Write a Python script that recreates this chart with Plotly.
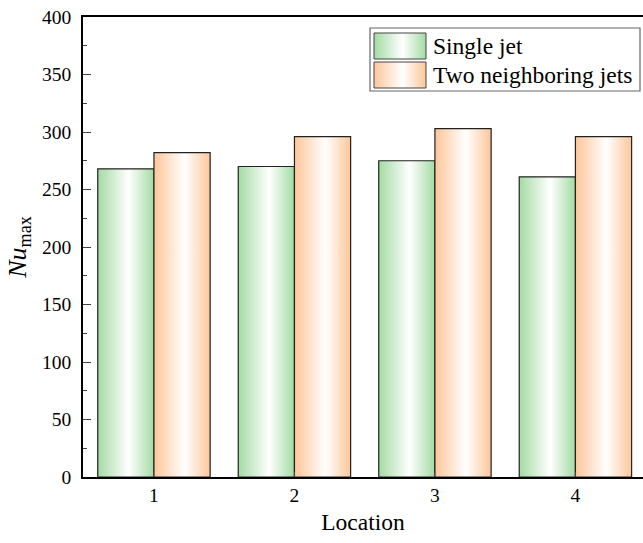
import plotly.graph_objects as go

locations = [1, 2, 3, 4]
single_jet = [268, 270, 275, 261]
two_jets = [282, 296, 303, 296]
series_names = ["Single jet", "Two neighboring jets"]
series_colors = ["#a3dba3", "#fdc69a"]
tick_labels = ["1", "2", "3", "4"]

BAR_W = 0.4
FONT = "'Liberation Serif', 'Times New Roman', 'DejaVu Serif', serif"


def gradient(col):
    return dict(type="horizontal", colorscale=[[0, col], [0.55, "#ffffff"], [1, col]])


fig = go.Figure()
for s, (name, vals, col) in enumerate(zip(series_names, [single_jet, two_jets], series_colors)):
    offset = -BAR_W if s == 0 else 0.0
    for i, (loc, v) in enumerate(zip(locations, vals)):
        x0 = loc + offset
        x1 = x0 + BAR_W
        fig.add_trace(go.Scatter(
            x=[x0, x0, x1, x1, x0], y=[0, v, v, 0, 0],
            mode="lines", fill="toself", fillgradient=gradient(col),
            line=dict(color="#222222", width=1.2),
            name=name, showlegend=False, hoverinfo="x+y",
        ))

# custom legend drawn in an overlay pixel-like coordinate frame
LEG_BOX = (370, 28, 640, 91)
SWATCH_X = (374, 426)
SWATCH_Y = [(33, 59), (62, 88)]
for (name, col, (ya, yb)) in zip(series_names, series_colors, SWATCH_Y):
    fig.add_trace(go.Scatter(
        x=[SWATCH_X[0], SWATCH_X[0], SWATCH_X[1], SWATCH_X[1], SWATCH_X[0]],
        y=[yb, ya, ya, yb, yb], xaxis="x2", yaxis="y2",
        mode="lines", fill="toself", fillgradient=gradient(col),
        line=dict(color="#444444", width=1), showlegend=False, hoverinfo="skip",
    ))
    fig.add_annotation(x=431, y=(ya + yb) / 2, xref="x2", yref="y2", text=name,
                       showarrow=False, xanchor="left", yanchor="middle",
                       font=dict(family=FONT, size=23.5, color="black"))
fig.add_shape(type="rect", xref="x2", yref="y2", x0=LEG_BOX[0], y0=LEG_BOX[1],
              x1=LEG_BOX[2], y1=LEG_BOX[3], line=dict(color="#666666", width=1.2),
              layer="below", fillcolor="white")

fig.update_layout(
    width=643, height=543,
    margin=dict(l=83, r=0, t=17, b=66),
    paper_bgcolor="white", plot_bgcolor="white",
    font=dict(family=FONT, size=19.5, color="black"),
    showlegend=False,
    xaxis=dict(range=[0.495, 4.481], tickmode="array", tickvals=locations,
               ticktext=tick_labels, ticks="inside", ticklen=5,
               showline=True, linecolor="black", linewidth=1.5, mirror=True,
               showgrid=False, zeroline=False,
               title=dict(text="Location", font=dict(size=23.5), standoff=8)),
    yaxis=dict(range=[0, 400], tickmode="linear", tick0=0, dtick=50,
               ticks="inside", ticklen=8, tickwidth=1.2,
               minor=dict(ticks="inside", ticklen=4, dtick=25, tickwidth=1.2),
               showline=True, linecolor="black", linewidth=1.5,
               showgrid=False, zeroline=False, ticklabelstandoff=6,
               title=dict(text="<i>Nu</i><sub>max</sub>", font=dict(size=26), standoff=8)),
    xaxis2=dict(overlaying="x", range=[83, 643], visible=False, fixedrange=True),
    yaxis2=dict(overlaying="y", range=[477, 17], visible=False, fixedrange=True),
)

fig.write_html("out.html")
